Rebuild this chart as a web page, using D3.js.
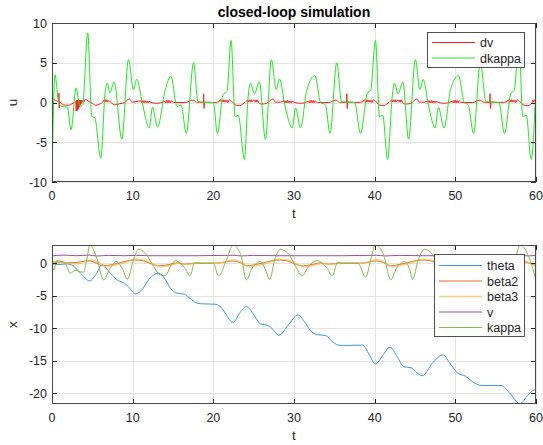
<!DOCTYPE html>
<html><head><meta charset="utf-8">
<script src="https://cdn.jsdelivr.net/npm/d3@7"></script>
<style>
body{margin:0;background:#fff;font-family:"Liberation Sans",Arial,sans-serif;}
svg{display:block;}
</style></head><body>
<svg id="chart" width="543" height="445"></svg>
<script>
// ticks
const xTicks = [0,10,20,30,40,50,60];
const uTicks = [-10,-5,0,5,10];
const xStateTicks = [-20,-15,-10,-5,0];

// top panel: inputs  [t, value]
const dkappa = [[0,-9.8],[0.37,3.5],[0.8,0.1],[1.2,-0.5],[1.9,-0.6],[2.36,-3.45],[2.98,1.8],[3.48,-0.5],[3.8,-0.3],[4.43,8.75],
 [4.93,-1.77],[5.3,-1.9],[6.05,-7.0],[6.58,1.2],[6.84,2.45],[7.18,1.2],[7.7,2.6],[8.66,-4.6],[9.48,5.4],[10.1,1.6],[10.5,2.95],
 [11.2,-0.1],[12.05,-3.2],[12.46,-0.6],[13.08,-3.1],[14.04,1.6],[14.74,3.3],[15.5,-0.5],[16.0,-0.3],[16.65,-3.9],[17.55,5.0],
 [18.1,0.1],[19.5,0],[20.0,0],[20.5,-3.9],[21.2,0.95],[21.7,1.4],[22.2,7.8],[22.7,-1.77],[23.1,-1.6],[23.85,-7.15],[24.3,0.55],
 [24.6,2.45],[25.1,1.1],[25.7,2.6],[26.46,-4.6],[27.2,5.4],[27.8,1.6],[28.2,2.95],[28.9,-0.5],[29.78,-3.2],[30.2,-0.7],[30.8,-3.2],
 [31.6,1.6],[32.6,3.37],[33.3,0],[33.9,-0.3],[34.46,-3.9],[35.3,5.0],[35.9,0.1],[37.5,0],[38.26,-3.9],[39.1,1.2],[39.5,1.5],
 [40.1,7.8],[40.6,-1.77],[41.0,-1.6],[41.6,-7.15],[42.2,1.0],[42.45,2.45],[42.9,1.1],[43.5,2.6],[44.2,-4.6],[45.05,5.4],[45.6,1.6],
 [46.0,2.9],[46.7,-0.5],[47.5,-3.2],[47.9,-0.6],[48.6,-3.2],[49.4,1.6],[50.4,3.37],[51.1,0],[51.6,-0.3],[52.26,-3.9],[53.1,5.0],
 [53.8,0.1],[55.4,0],[56.1,-3.9],[56.9,1.2],[57.3,1.5],[57.9,7.8],[58.35,-1.77],[58.8,-1.6],[59.4,-7.15],[60,2.2]];

const dv = [[0,0.8],[0.3,0.3],[0.6,0.2],[0.82,0.1],[0.85,1.2],[0.9,-0.7],[0.95,0.1],[1.3,-0.3],[2.0,-0.35],[2.6,-0.1],[2.95,0.1],
 [3.0,-1.1],[3.05,0.3],[3.1,-1.0],[3.15,0.3],[3.2,-0.9],[3.25,0.3],[3.3,-0.75],[3.35,0.3],[3.4,-0.55],[3.45,0.3],[3.5,-0.35],
 [3.55,0.3],[3.6,-0.15],[3.7,0.3],[3.8,0.05],[3.9,0.3],[4.0,0.1],[4.1,0.4],[4.6,0.1],[5.0,-0.1],[5.4,-0.35],[5.9,-0.2],[6.3,0.05],
 [6.4,0.3],[6.5,0.05],[6.6,0.35],[6.7,0.05],[6.8,0.35],[6.9,0.05],[7.0,0.25],[7.3,0.0],[7.8,-0.3],[8.4,-0.15],[9.0,0.0],[9.6,0.45],
 [9.9,0.05],[10.4,0.1],[11.0,0.2],[11.1,-0.05],[11.2,0.25],[11.3,-0.05],[11.4,0.25],[11.5,-0.05],[11.6,0.2],[11.7,-0.05],[11.8,0.2],
 [11.9,-0.05],[12.0,0.15],[12.3,0.0],[13.0,-0.1],[13.6,0.0],[14.0,0.15],[14.1,-0.05],[14.2,0.3],[14.3,-0.05],[14.4,0.3],[14.5,-0.05],
 [14.6,0.25],[14.7,-0.05],[14.8,0.2],[15.1,0.0],[16.5,0.0],[17.5,0.3],[17.9,0.05],[18.75,0.0],[18.8,1.1],[18.85,-0.75],[18.9,0.05],
 [20.0,0.0],[20.7,0.1],[20.9,0.35],[21.0,0.05],[21.1,0.3],[21.2,0.05],[21.3,0.35],[21.4,0.05],[21.5,0.3],[21.6,0.05],[21.7,0.3],
 [21.8,0.0],[22.0,0.35],[22.3,0.1],[22.7,-0.3],[23.2,-0.4],[23.8,-0.1],[24.3,0.3],[24.4,0.05],[24.5,0.35],[24.6,0.05],[24.7,0.35],
 [24.8,0.05],[24.9,0.25],[25.1,0.3],[25.2,0.05],[25.3,0.35],[25.4,0.05],[25.5,0.3],[25.6,0.0],[26.0,-0.2],[26.6,-0.1],[27.4,0.45],
 [27.7,0.05],[28.3,0.05],[28.8,0.2],[28.9,-0.05],[29.0,0.25],[29.1,-0.05],[29.2,0.25],[29.3,-0.05],[29.4,0.2],[29.5,-0.05],[29.6,0.2],
 [29.7,-0.05],[29.8,0.15],[30.1,0.0],[30.8,-0.1],[31.4,0.0],[31.8,0.15],[31.9,-0.05],[32.0,0.3],[32.1,-0.05],[32.2,0.3],[32.3,-0.05],
 [32.4,0.25],[32.5,-0.05],[32.6,0.2],[32.9,0.0],[34.3,0.0],[35.2,0.3],[35.6,0.05],[36.5,0.0],[36.55,1.1],[36.6,-0.75],[36.65,0.05],
 [37.8,0.0],[38.55,0.1],[38.75,0.35],[38.85,0.05],[38.95,0.3],[39.05,0.05],[39.15,0.35],[39.25,0.05],[39.35,0.3],[39.45,0.05],
 [39.55,0.3],[39.65,0.0],[39.85,0.35],[40.15,0.1],[40.55,-0.3],[41.05,-0.4],[41.65,-0.1],[42.15,0.3],[42.25,0.05],[42.35,0.35],
 [42.45,0.05],[42.55,0.35],[42.65,0.05],[42.75,0.25],[42.95,0.3],[43.05,0.05],[43.15,0.35],[43.25,0.05],[43.35,0.3],[43.45,0.0],
 [43.85,-0.2],[44.45,-0.1],[45.25,0.45],[45.55,0.05],[46.15,0.05],[46.65,0.2],[46.75,-0.05],[46.85,0.25],[46.95,-0.05],[47.05,0.25],
 [47.15,-0.05],[47.25,0.2],[47.35,-0.05],[47.45,0.2],[47.55,-0.05],[47.65,0.15],[47.95,0.0],[48.65,-0.1],[49.25,0.0],[49.65,0.15],
 [49.75,-0.05],[49.85,0.3],[49.95,-0.05],[50.05,0.3],[50.15,-0.05],[50.25,0.25],[50.35,-0.05],[50.45,0.2],[50.75,0.0],[52.15,0.0],
 [53.05,0.3],[53.45,0.05],[54.25,0.0],[54.3,1.1],[54.35,-0.75],[54.4,0.05],[55.6,0.0],[56.4,0.1],[56.6,0.35],[56.7,0.05],[56.8,0.3],
 [56.9,0.05],[57.0,0.35],[57.1,0.05],[57.2,0.3],[57.3,0.05],[57.4,0.3],[57.5,0.0],[57.7,0.35],[58.0,0.1],[58.4,-0.3],[58.9,-0.4],
 [59.5,-0.1],[59.6,0.3],[59.7,0.05],[59.8,0.35],[59.9,0.05],[60,0.3]];

// bottom panel: states
const theta = [[0,-0.1],[1,-0.2],[1.8,-0.1],[2.5,-0.3],[3.5,-1.5],[4.7,-2.72],[5.5,-1.6],[6.2,-0.2],[7.0,-1.2],[8.0,-2.5],[8.8,-3.0],
 [9.3,-3.4],[10.4,-4.72],[11.2,-4.0],[12.0,-2.5],[13.2,-1.54],[14.0,-2.4],[14.7,-3.9],[15.5,-4.6],[16.4,-4.75],[17.1,-5.4],[18.0,-6.15],
 [18.8,-6.25],[20.2,-6.3],[20.8,-6.6],[22.45,-9.08],[23.3,-7.6],[24.1,-6.67],[25.0,-7.9],[25.8,-9.3],[26.8,-9.6],[27.4,-10.2],[28.1,-11.1],
 [29.3,-9.5],[30.5,-7.95],[31.3,-9.0],[32.0,-10.3],[32.9,-11.0],[33.9,-11.1],[34.7,-12.0],[35.5,-12.6],[36.0,-12.65],[38.5,-12.6],
 [39.3,-14.0],[40.1,-15.5],[41.0,-14.2],[41.9,-12.9],[42.8,-14.4],[43.6,-15.9],[44.6,-16.1],[45.2,-16.8],[45.9,-17.3],[47.2,-15.3],
 [48.45,-14.1],[49.4,-15.5],[50.3,-16.9],[51.3,-17.4],[52.1,-18.2],[53.3,-18.8],[55.7,-18.8],[56.7,-19.9],[58.0,-21.6],[59.0,-20.3],
 [59.8,-19.5],[60,-19.6]];
const beta2 = [[0,0.2],[1,0.15],[2,0.05],[3,0.1],[4,0.3],[4.7,0.35],[5.5,0.0],[6.3,-0.4],[7.5,-0.2],[8.5,0.1],[10.2,0.5],[11.2,0.4],
 [12.3,-0.1],[13.3,-0.4],[14.5,-0.2],[15.5,0.05],[16.5,-0.15],[17.5,0.0],[20,0],[21,0.1],[22.4,0.35],[23.3,0.1],[24.1,-0.4],[25.3,-0.2],
 [26.3,0.1],[28,0.5],[29,0.4],[30.1,-0.1],[31.1,-0.4],[32.3,-0.2],[33.3,0.05],[34.3,-0.15],[35.3,0],[38.2,0],[38.9,0.1],[40.2,0.35],
 [41.1,0.1],[41.9,-0.4],[43.1,-0.2],[44.1,0.1],[45.8,0.5],[46.8,0.4],[47.9,-0.1],[48.9,-0.4],[50.1,-0.2],[51.1,0.05],[52.1,-0.15],
 [53.1,0],[56,0],[56.7,0.1],[58,0.35],[58.9,0.1],[60,-0.4]];
const beta3 = [[0,0.1],[1,0.2],[2,0.0],[3,-0.1],[4,0.2],[4.9,0.5],[5.8,0.1],[6.6,-0.5],[7.7,-0.3],[8.8,0.0],[10.4,0.6],[11.5,0.45],
 [12.6,-0.2],[13.6,-0.5],[14.8,-0.3],[15.8,0.0],[16.8,-0.2],[17.8,0.0],[20.5,0.0],[21.3,0.15],[22.6,0.5],[23.5,0.1],[24.4,-0.5],
 [25.5,-0.3],[26.6,0.0],[28.2,0.6],[29.3,0.45],[30.4,-0.2],[31.4,-0.5],[32.6,-0.3],[33.6,0.0],[34.6,-0.2],[35.6,0.0],[38.3,0.0],
 [39.1,0.15],[40.4,0.5],[41.3,0.1],[42.2,-0.5],[43.3,-0.3],[44.4,0.0],[46.0,0.6],[47.1,0.45],[48.2,-0.2],[49.2,-0.5],[50.4,-0.3],
 [51.4,0.0],[52.4,-0.2],[53.4,0.0],[56.1,0.0],[56.9,0.15],[58.2,0.5],[59.1,0.1],[60,-0.45]];
const vel = [[0,1.1],[0.5,1.2],[1.5,1.25],[3,1.15],[4.6,1.25],[5.5,1.1],[7,1.2],[9,1.15],[10.5,1.2],[12,1.15],[18,1.15],[22.4,1.22],
 [23.5,1.12],[25,1.2],[28,1.15],[36,1.15],[40.2,1.22],[41.3,1.12],[43,1.2],[46,1.15],[54,1.15],[58,1.22],[59,1.12],[60,1.2]];
const kappa = [[0,-0.5],[0.25,-1.0],[0.6,0.4],[1.0,0.3],[1.6,0.1],[2.24,-1.54],[2.9,-1.1],[3.5,-1.3],[3.9,-1.4],[4.3,0.5],[4.7,2.8],
 [5.5,1.0],[6.4,-2.56],[7.2,-0.77],[8.0,0.26],[8.7,-0.8],[9.35,-2.46],[10.1,0.5],[10.73,2.15],[11.7,1.3],[12.6,-0.5],[13.4,-1.8],
 [14.0,-1.95],[14.8,-0.26],[15.3,0.4],[15.9,0.0],[16.5,-0.8],[17.1,-1.95],[17.7,0.1],[18.2,0],[20.0,0],[20.65,-1.95],[21.6,0.4],
 [22.45,2.8],[23.4,1.3],[24.1,-2.56],[24.8,-0.77],[25.8,0.26],[26.4,-0.8],[27.0,-2.46],[27.6,0.5],[28.3,2.15],[29.4,1.3],[30.2,-0.5],
 [31.0,-1.95],[31.8,-0.5],[32.9,0.4],[33.5,0.0],[34.1,-0.8],[34.75,-1.95],[35.4,0.1],[36,0],[37.9,0],[38.9,-2.15],[39.5,0.5],[40.1,2.8],
 [41.1,1.3],[42.0,-2.56],[42.7,-0.77],[43.7,0.26],[44.3,-0.8],[44.7,-2.46],[45.4,0.5],[46.2,2.15],[47.2,1.3],[48.0,-0.5],[48.85,-1.95],
 [49.7,-0.5],[50.75,0.4],[51.3,0.0],[51.9,-0.8],[52.6,-1.95],[53.25,0.1],[54,0],[55.7,0],[56.75,-2.15],[57.4,0.5],[58.05,2.8],
 [59.0,1.3],[60,-2.56]];

const svg = d3.select("#chart");
const ink = "#262626";

function panel(o) {
  const x = d3.scaleLinear().domain([0,60]).range([o.left,o.right]);
  const y = d3.scaleLinear().domain(o.ydom).range([o.bottom,o.top]);
  const g = svg.append("g");
  // grid
  g.selectAll(".gx").data(xTicks).enter().append("line")
    .attr("x1",d=>Math.round(x(d))+0.5).attr("x2",d=>Math.round(x(d))+0.5)
    .attr("y1",o.top).attr("y2",o.bottom).attr("stroke","#e4e4e4");
  g.selectAll(".gy").data(o.yticks).enter().append("line")
    .attr("y1",d=>Math.round(y(d))+0.5).attr("y2",d=>Math.round(y(d))+0.5)
    .attr("x1",o.left).attr("x2",o.right).attr("stroke","#e4e4e4");
  // lines
  const cid = "clip"+o.id;
  svg.append("clipPath").attr("id",cid).append("rect")
    .attr("x",o.left).attr("y",o.top).attr("width",o.right-o.left).attr("height",o.bottom-o.top);
  const line = d3.line().x(d=>x(d[0])).y(d=>y(d[1])).curve(d3.curveMonotoneX);
  const lg = g.append("g").attr("clip-path","url(#"+cid+")");
  o.series.forEach(s => {
    lg.append("path").attr("d",line(s.data)).attr("fill","none")
      .attr("stroke",s.color).attr("stroke-width",s.w||1).attr("stroke-opacity",s.op||1);
  });
  // ticks (inside, all four sides)
  const tl = 5;
  xTicks.forEach(d => {
    const px = Math.round(x(d))+0.5;
    g.append("line").attr("x1",px).attr("x2",px).attr("y1",o.bottom).attr("y2",o.bottom-tl).attr("stroke",ink);
    g.append("line").attr("x1",px).attr("x2",px).attr("y1",o.top).attr("y2",o.top+tl).attr("stroke",ink);
    g.append("text").attr("x",x(d)).attr("y",o.bottom+18).attr("text-anchor","middle")
      .attr("font-size",12.5).attr("fill",ink).text(d);
  });
  o.yticks.forEach(d => {
    const py = Math.round(y(d))+0.5;
    g.append("line").attr("y1",py).attr("y2",py).attr("x1",o.left).attr("x2",o.left+tl).attr("stroke",ink);
    g.append("line").attr("y1",py).attr("y2",py).attr("x1",o.right).attr("x2",o.right-tl).attr("stroke",ink);
    g.append("text").attr("x",o.left-5).attr("y",y(d)).attr("dy","0.36em").attr("text-anchor","end")
      .attr("font-size",12.5).attr("fill",ink).text(d);
  });
  // box
  g.append("rect").attr("x",o.left+0.5).attr("y",o.top+0.5)
    .attr("width",o.right-o.left-1).attr("height",o.bottom-o.top-1)
    .attr("fill","none").attr("stroke","#4a4a4a");
  // labels
  g.append("text").attr("x",(o.left+o.right)/2).attr("y",o.bottom+36).attr("text-anchor","middle")
    .attr("font-size",13.5).attr("fill",ink).text("t");
  g.append("text").attr("transform",`translate(${o.left-35},${(o.top+o.bottom)/2}) rotate(-90)`)
    .attr("text-anchor","middle").attr("font-size",13.5).attr("fill",ink).text(o.ylabel);
  // legend
  const L = o.legend;
  g.append("rect").attr("x",L.x+0.5).attr("y",L.y+0.5).attr("width",L.w).attr("height",L.h)
    .attr("fill","#fff").attr("stroke",ink).attr("stroke-width",0.8);
  o.series.forEach((s,i) => {
    const yy = L.y + L.first + i*L.step;
    g.append("line").attr("x1",L.x+5).attr("x2",L.x+48).attr("y1",yy).attr("y2",yy)
      .attr("stroke",s.color).attr("stroke-width",s.w||1).attr("stroke-opacity",s.op||1);
    g.append("text").attr("x",L.x+53).attr("y",yy).attr("dy","0.36em")
      .attr("font-size",12.5).attr("fill",ink).text(s.name);
  });
  return {x,y};
}

panel({id:1, left:52, right:536, top:23, bottom:182, ydom:[-10,10], yticks:uTicks, ylabel:"u",
  series:[{name:"dv",data:dv,color:"#ff1a1a"},{name:"dkappa",data:dkappa,color:"#1ee81e"}],
  legend:{x:427,y:32,w:97,h:35,first:10.5,step:15.5}});

panel({id:2, left:52, right:536, top:245, bottom:404, ydom:[-21.65,2.8], yticks:xStateTicks, ylabel:"x",
  series:[{name:"theta",data:theta,color:"#3b98da"},
          {name:"beta2",data:beta2,color:"#e0662f"},
          {name:"beta3",data:beta3,color:"#f0bd4a",w:1.6,op:0.7},
          {name:"v",data:vel,color:"#94509f"},
          {name:"kappa",data:kappa,color:"#86b84a"}],
  legend:{x:434,y:254,w:90,h:82,first:11.5,step:15.5}});

svg.append("text").attr("x",294).attr("y",17).attr("text-anchor","middle")
  .attr("font-size",14).attr("font-weight","bold").attr("fill","#000").text("closed-loop simulation");
</script>
</body></html>
